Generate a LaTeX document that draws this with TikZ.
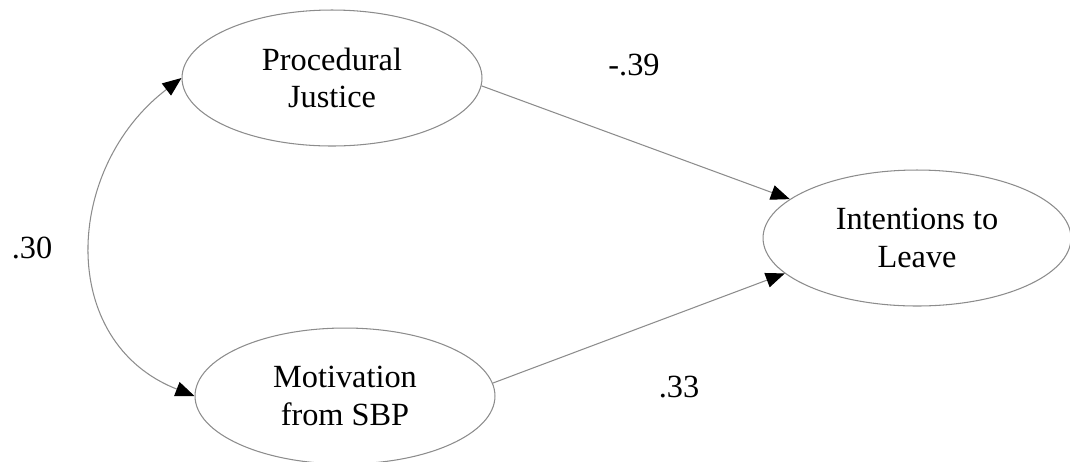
\documentclass[tikz,border=0pt]{standalone}
\usepackage{fontspec}
\setmainfont{Liberation Serif}
\usetikzlibrary{shapes.geometric,arrows.meta}

\begin{document}
\begin{tikzpicture}[x=0.02cm,y=-0.02cm,
  latent/.style={ellipse,draw=black!45,line width=0.6pt,minimum width=6cm,minimum height=2.72cm,inner sep=0pt,align=center,font=\fontsize{18.4}{21.5}\selectfont},
  effect/.style={draw=black!45,line width=0.6pt,-{Triangle[length=0.38cm,width=0.3cm,color=black]}},
  coef/.style={font=\fontsize{18.4}{21.5}\selectfont}]
\useasboundingbox (0,0) rectangle (1070,461);
% latent variables
\node[latent] (pj) at (332,78) {Procedural\\Justice};
\node[latent] (mot) at (345,396) {Motivation\\from SBP};
\node[latent,minimum width=6.16cm] (il) at (917,238) {Intentions to\\Leave};
% paths
\draw[effect] (pj.-3) -- (il.163);
\draw[effect] (mot.5) -- (il.195);
% correlation
\draw[effect,{Triangle[length=0.38cm,width=0.3cm,color=black]}-{Triangle[length=0.38cm,width=0.3cm,color=black]}]
  (pj.west) .. controls +(-118,90) and +(-138,-54) .. (mot.west);
% coefficients
\node[coef] (b1) at (634,65) {-.39};
\node[coef] (b2) at (679,387) {.33};
\node[coef] (r1) at (32,248) {.30};
\end{tikzpicture}
\end{document}
